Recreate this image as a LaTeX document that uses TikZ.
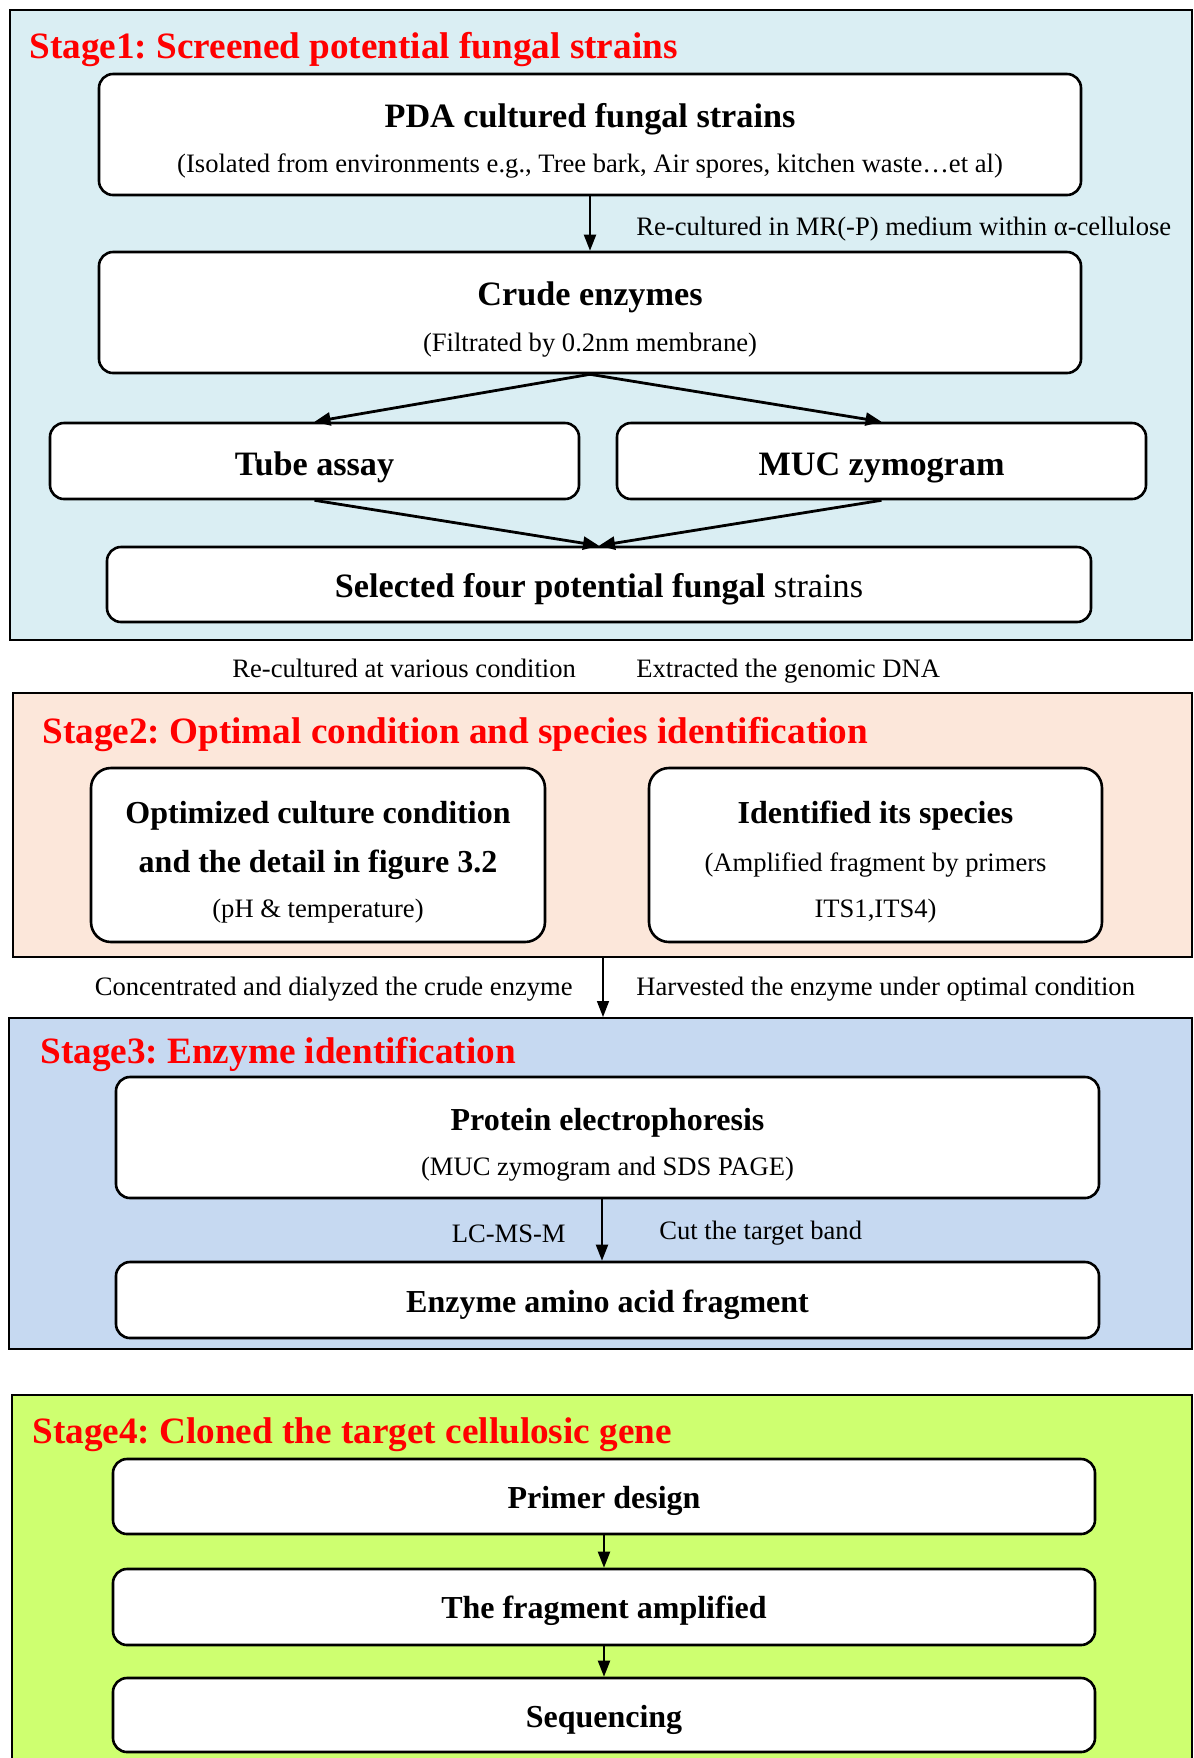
\documentclass[tikz,border=0pt]{standalone}
\usepackage{fontspec}
\setmainfont{Liberation Serif}
\usetikzlibrary{arrows.meta,fit}
\definecolor{sOne}{RGB}{218,238,243}
\definecolor{sTwo}{RGB}{252,231,218}
\definecolor{sThree}{RGB}{198,217,241}
\definecolor{sFour}{RGB}{206,255,112}
\frenchspacing
\begin{document}
\begin{tikzpicture}[x=0.5pt,y=-0.5pt,
  stagebox/.style={draw, line width=1pt, inner sep=0pt},
  rbox/.style={draw, fill=white, line width=1.3pt, rounded corners=7pt, inner sep=0pt},
  rboxB/.style={rbox, rounded corners=10pt},
  stitle/.style={anchor=base west, inner sep=0pt, text=red, font=\fontsize{18.6pt}{22pt}\selectfont\bfseries},
  tA/.style={anchor=base, inner sep=0pt, font=\fontsize{17.1pt}{20pt}\selectfont\bfseries},
  tB/.style={anchor=base, inner sep=0pt, font=\fontsize{16pt}{19pt}\selectfont\bfseries},
  rt/.style={anchor=base, inner sep=0pt, font=\fontsize{13.3pt}{16pt}\selectfont},
  arr/.style={line width=1pt, -{Triangle[length=8pt,width=6pt]}},
  darr/.style={line width=1.4pt, -{Triangle[length=8pt,width=6.5pt]}},
]
\clip (0,0) rectangle (1194,1758);
\fill[white] (0,0) rectangle (1194,1758);

% ---------------- Stage 1
\node[stagebox, fill=sOne, fit={(10,10) (1192,640)}] (s1) {};
\node[stitle] (s1t) at (29,58) {Stage1: Screened potential fungal strains};
\node[rbox, fit={(99,74) (1081,195)}] (pda) {};
\node[tA] (pdaT) at (590,127) {PDA cultured fungal strains};
\node[rt] (pdaS) at (590,172) {(Isolated from environments e.g., Tree bark, Air spores, kitchen waste…et al)};
\node[rbox, fit={(99,252) (1081,373)}] (crude) {};
\node[tA] (crudeT) at (590,305) {Crude enzymes};
\node[rt] (crudeS) at (590,351) {(Filtrated by 0.2nm membrane)};
\draw[arr] (pda.south) -- (crude.north);
\node[rt, anchor=base west] (l1) at (636,235) {Re-cultured in MR(-P) medium within α-cellulose};

\node[rbox, fit={(50,423) (579,499)}] (tube) {};
\node[tA] (tubeT) at (314.5,475) {Tube assay};
\node[rbox, fit={(617,423) (1146,499)}] (muc) {};
\node[tA] (mucT) at (881.5,475) {MUC zymogram};
\node[rbox, fit={(107,547) (1091,622)}] (sel) {};
\node[tA] (selT) at (599,597) {Selected four potential fungal \textmd{strains}};
\draw[darr] (crude.south) -- (tube.north);
\draw[darr] (crude.south) -- (muc.north);
\draw[darr] (tube.south) -- (sel.north);
\draw[darr] (muc.south) -- (sel.north);

\node[rt, anchor=base west] (l2) at (232,677) {Re-cultured at various condition};
\node[rt, anchor=base west] (l3) at (636,677) {Extracted the genomic DNA};

% ---------------- Stage 2
\node[stagebox, fill=sTwo, fit={(13,693) (1192,957)}] (s2) {};
\node[stitle] (s2t) at (42,743) {Stage2: Optimal condition and species identification};
\node[rboxB, fit={(91,768) (545,942)}] (opt) {};
\node[tB] (optA) at (318,823) {Optimized culture condition};
\node[tB] (optB) at (318,872) {and the detail in figure 3.2};
\node[rt] (optC) at (318,917) {(pH \& temperature)};
\node[rboxB, fit={(649,768) (1102,942)}] (ident) {};
\node[tB] (idA) at (875.5,823) {Identified its species};
\node[rt] (idB) at (875.5,871) {(Amplified fragment by primers};
\node[rt] (idC) at (875.5,917) {ITS1,ITS4)};

\node[rt, anchor=base east] (l4) at (573,995) {Concentrated and dialyzed the crude enzyme};
\node[rt, anchor=base west] (l5) at (636,995) {Harvested the enzyme under optimal condition};

% ---------------- Stage 3
\node[stagebox, fill=sThree, fit={(9,1018) (1192,1349)}] (s3) {};
\coordinate (c23) at (603,0);
\draw[line width=0.8pt, -{Triangle[length=8pt,width=6pt]}] (c23 |- s2.south) -- (c23 |- s3.north);
\node[stitle] (s3t) at (40,1063) {Stage3: Enzyme identification};
\node[rbox, fit={(116,1077) (1099,1198)}] (prot) {};
\node[tB] (protT) at (607.5,1130) {Protein electrophoresis};
\node[rt] (protS) at (607.5,1175) {(MUC zymogram and SDS PAGE)};
\node[rbox, fit={(116,1262) (1099,1338)}] (enz) {};
\node[tB] (enzT) at (607.5,1312) {Enzyme amino acid fragment};
\coordinate (c3) at (602,0);
\draw[arr] (c3 |- prot.south) -- (c3 |- enz.north);
\node[rt, anchor=base east] (l6) at (566,1242) {LC-MS-M};
\node[rt, anchor=base west] (l7) at (659,1239) {Cut the target band};

% ---------------- Stage 4
\node[stagebox, fill=sFour, fit={(12,1395) (1192,1780)}] (s4) {};
\node[stitle] (s4t) at (32,1443) {Stage4: Cloned the target cellulosic gene};
\node[rbox, fit={(113,1459) (1095,1534)}] (primer) {};
\node[tB] (primerT) at (604,1508) {Primer design};
\node[rbox, fit={(113,1569) (1095,1645)}] (frag) {};
\node[tB] (fragT) at (604,1618) {The fragment amplified};
\node[rbox, fit={(113,1678) (1095,1752)}] (seq) {};
\node[tB] (seqT) at (604,1727) {Sequencing};
\draw[arr] (primer.south) -- (frag.north);
\draw[arr] (frag.south) -- (seq.north);
\end{tikzpicture}
\end{document}
